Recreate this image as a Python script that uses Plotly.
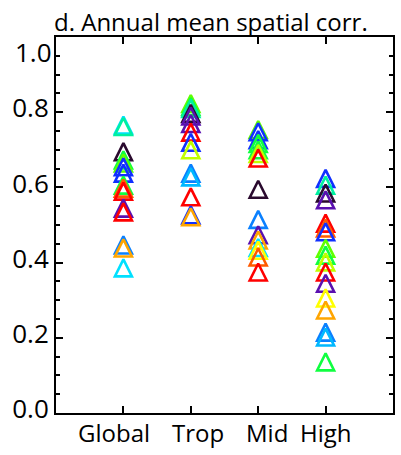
import plotly.graph_objects as go

# ---- data ----
categories = ["Global", "Trop", "Mid", "High"]
cat_pos = [1, 2, 3, 4]

BLK = "#2a0a2e"; PUR = "#5a10b0"; BLU = "#1030ff"; DOD = "#0a80ff"; LBL = "#00b8ff"
CYN = "#00e0ff"; SPR = "#00f0a0"; GRN = "#10ff40"; LIM = "#60ff00"; YGR = "#c0ff00"
YEL = "#ffff00"; ORA = "#ffa500"; ORR = "#ff5a00"; RED = "#ff0000"

global_vals = [0.766, 0.762, 0.695, 0.673, 0.665, 0.655, 0.638, 0.606, 0.598, 0.590, 0.545, 0.535, 0.447, 0.439, 0.386]
global_cols = [CYN, SPR, BLK, GRN, LIM, BLU, BLU, GRN, ORR, RED, PUR, RED, DOD, ORA, CYN]

trop_vals = [0.823, 0.815, 0.810, 0.797, 0.790, 0.770, 0.747, 0.720, 0.700, 0.638, 0.628, 0.575, 0.527, 0.522]
trop_cols = [LIM, GRN, SPR, BLK, PUR, PUR, RED, BLU, YGR, DOD, LBL, RED, BLU, ORA]

mid_vals = [0.754, 0.748, 0.727, 0.717, 0.700, 0.690, 0.678, 0.595, 0.515, 0.474, 0.460, 0.440, 0.433, 0.415, 0.375]
mid_cols = [LIM, BLU, BLU, GRN, GRN, YGR, RED, BLK, DOD, PUR, ORA, CYN, YEL, ORR, RED]

high_vals = [0.624, 0.606, 0.585, 0.567, 0.505, 0.492, 0.482, 0.438, 0.420, 0.402, 0.375, 0.345, 0.306, 0.274, 0.215, 0.202, 0.136]
high_cols = [BLU, SPR, BLK, PUR, RED, ORR, BLU, LIM, GRN, YGR, RED, PUR, YEL, ORA, DOD, LBL, GRN]

y_tick_vals = [0.0, 0.2, 0.4, 0.6, 0.8, 1.0]
y_tick_text = ["0.0", "0.2", "0.4", "0.6", "0.8", ""]
top_label = "1.0"
title_text = "d. Annual mean spatial corr."

# ---- layout geometry ----
W, H = 401, 455
ML, MR, MT, MB = 56, 6, 37, 42
plot_h = H - MT - MB
msize = 17
half = (msize / 2) / plot_h  # arrow-up apex sits at point; offset axis so triangle is centred
FONT = "Open Sans"

fig = go.Figure()
# empty trace so the visible x/y axes frame is drawn
fig.add_trace(go.Scatter(x=[None], y=[None], mode="markers", showlegend=False, hoverinfo="skip"))
series = [(global_vals, global_cols), (trop_vals, trop_cols), (mid_vals, mid_cols), (high_vals, high_cols)]
for pos, (vals, cols) in zip(cat_pos, series):
    fig.add_trace(go.Scatter(
        x=[pos] * len(vals), y=vals, mode="markers", yaxis="y2",
        marker=dict(symbol="arrow-up-open", size=msize, color=cols, line=dict(width=2.6)),
        showlegend=False, hoverinfo="skip"))

axis_common = dict(showline=True, linewidth=2, linecolor="black", mirror="ticks",
                   ticks="inside", tickwidth=2, tickcolor="black", showgrid=False, zeroline=False)

fig.update_layout(
    width=W, height=H,
    margin=dict(l=ML, r=MR, t=MT, b=MB, pad=0),
    paper_bgcolor="white", plot_bgcolor="white",
    font=dict(family=FONT, color="black"),
    xaxis=dict(range=[0, 5], tickvals=cat_pos, ticktext=["", "", "", ""], ticklen=7, **axis_common),
    yaxis=dict(range=[0, 1], tickvals=y_tick_vals, ticktext=y_tick_text, ticklen=7,
               tickfont=dict(size=26, family=FONT), ticklabelshift=-4, ticklabelstandoff=0,
               minor=dict(ticks="inside", ticklen=4, tickwidth=2, tickcolor="black", dtick=0.05),
               **axis_common),
    yaxis2=dict(range=[-half, 1 - half], overlaying="y", visible=False),
)

# category labels
label_x = [0.86, 2.1, 3.13, 4.0]
for lx, txt in zip(label_x, categories):
    fig.add_annotation(x=lx, y=-0.053, xref="x", yref="paper", text=txt, showarrow=False,
                       xanchor="center", yanchor="middle", font=dict(size=24, family=FONT))

fig.add_annotation(x=0, y=(H - MB - 52) / plot_h, xref="paper", yref="paper", text=top_label,
                   showarrow=False, xanchor="right", yanchor="middle", xshift=-2,
                   font=dict(size=26, family=FONT))

fig.add_annotation(x=(212 - ML) / (W - ML - MR), y=(H - MB - 22) / plot_h, xref="paper", yref="paper",
                   text=title_text, showarrow=False, xanchor="center", yanchor="middle",
                   font=dict(size=24, family=FONT))

fig.write_html("out.html")
